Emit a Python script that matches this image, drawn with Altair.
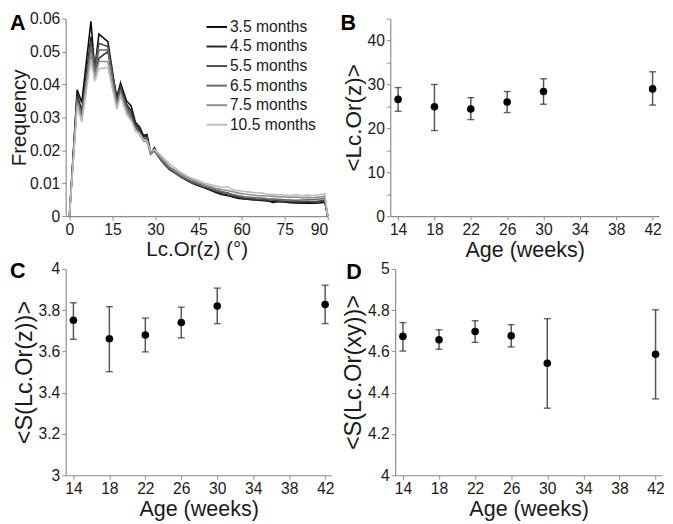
import altair as alt
import pandas as pd

FONT = "Liberation Sans"

# ---------------- Panel A data ----------------
angles = [0, 2.7, 4.3, 7.5, 8.8, 10.3, 13.4, 16.5, 17.8, 19.9, 21.5, 23.0, 24.5, 25.8, 27.0,
          28.3, 29.6, 31.0, 33, 35, 37, 39, 41, 43, 45, 47, 49, 51, 53, 55, 57, 59, 61, 63,
          65, 67, 69, 71, 73, 75, 77, 79, 81, 83, 85, 87, 89, 90]

freq_35 = [0, 0.0384, 0.0345, 0.0592, 0.0447, 0.0553, 0.0530, 0.0355, 0.0405, 0.0350, 0.0335,
           0.0285, 0.0270, 0.0245, 0.0248, 0.0192, 0.0208, 0.0185, 0.0162, 0.0145, 0.0132,
           0.0120, 0.0108, 0.0100, 0.0093, 0.0086, 0.0079, 0.0072, 0.0066, 0.0063, 0.0058,
           0.0054, 0.0052, 0.0051, 0.0049, 0.0048, 0.0046, 0.0045, 0.0044, 0.0043, 0.0041,
           0.0040, 0.0039, 0.0040, 0.0039, 0.0040, 0.0042, 0]
freq_45 = [0, 0.0372, 0.0320, 0.0545, 0.0440, 0.0480, 0.0500, 0.0365, 0.0398, 0.0340, 0.0320,
           0.0278, 0.0262, 0.0240, 0.0245, 0.0195, 0.0205, 0.0182, 0.0160, 0.0142, 0.0130,
           0.0118, 0.0110, 0.0099, 0.0092, 0.0087, 0.0080, 0.0073, 0.0068, 0.0064, 0.0060,
           0.0056, 0.0053, 0.0051, 0.0050, 0.0050, 0.0047, 0.0041, 0.0045, 0.0044, 0.0043,
           0.0042, 0.0041, 0.0043, 0.0042, 0.0044, 0.0046, 0]
freq_55 = [0, 0.0362, 0.0300, 0.0530, 0.0455, 0.0525, 0.0515, 0.0350, 0.0390, 0.0335, 0.0310,
           0.0270, 0.0255, 0.0235, 0.0238, 0.0190, 0.0200, 0.0180, 0.0158, 0.0140, 0.0130,
           0.0119, 0.0109, 0.0101, 0.0095, 0.0088, 0.0083, 0.0077, 0.0072, 0.0070, 0.0064,
           0.0060, 0.0056, 0.0054, 0.0052, 0.0051, 0.0050, 0.0049, 0.0047, 0.0046, 0.0046,
           0.0045, 0.0044, 0.0045, 0.0044, 0.0046, 0.0048, 0]
freq_65 = [0, 0.0352, 0.0312, 0.0515, 0.0435, 0.0505, 0.0505, 0.0340, 0.0380, 0.0325, 0.0300,
           0.0265, 0.0250, 0.0232, 0.0230, 0.0188, 0.0198, 0.0182, 0.0162, 0.0145, 0.0133,
           0.0122, 0.0113, 0.0105, 0.0098, 0.0091, 0.0086, 0.0080, 0.0075, 0.0071, 0.0066,
           0.0062, 0.0059, 0.0057, 0.0056, 0.0055, 0.0053, 0.0052, 0.0051, 0.0050, 0.0049,
           0.0048, 0.0049, 0.0050, 0.0050, 0.0052, 0.0054, 0]
freq_75 = [0, 0.0345, 0.0295, 0.0495, 0.0420, 0.0470, 0.0470, 0.0332, 0.0372, 0.0318, 0.0295,
           0.0260, 0.0248, 0.0228, 0.0225, 0.0192, 0.0200, 0.0186, 0.0168, 0.0150, 0.0138,
           0.0127, 0.0118, 0.0110, 0.0102, 0.0096, 0.0090, 0.0085, 0.0081, 0.0078, 0.0074,
           0.0070, 0.0067, 0.0065, 0.0063, 0.0062, 0.0061, 0.0060, 0.0059, 0.0058, 0.0057,
           0.0058, 0.0056, 0.0057, 0.0056, 0.0058, 0.0060, 0]
freq_105 = [0, 0.0335, 0.0285, 0.0475, 0.0410, 0.0448, 0.0452, 0.0325, 0.0365, 0.0310, 0.0290,
            0.0262, 0.0250, 0.0232, 0.0228, 0.0198, 0.0203, 0.0192, 0.0175, 0.0158, 0.0145,
            0.0132, 0.0122, 0.0114, 0.0108, 0.0101, 0.0096, 0.0092, 0.0087, 0.0090, 0.0080,
            0.0077, 0.0075, 0.0073, 0.0071, 0.0070, 0.0067, 0.0066, 0.0065, 0.0064, 0.0063,
            0.0066, 0.0062, 0.0064, 0.0063, 0.0065, 0.0068, 0]

series_names = ["3.5 months", "4.5 months", "5.5 months", "6.5 months", "7.5 months", "10.5 months"]
series_vals = [freq_35, freq_45, freq_55, freq_65, freq_75, freq_105]
series_colors = ["#0a0a0a", "#262626", "#4a4a4a", "#6a6a6a", "#8e8e8e", "#bdbdbd"]

# ---------------- Panels B, C, D data ----------------
ages = [14, 18, 22, 26, 30, 42]
b_mean = [26.6, 24.9, 24.4, 26.0, 28.4, 29.0]
b_lo = [23.9, 19.5, 22.0, 23.6, 25.5, 25.3]
b_hi = [29.3, 30.0, 27.0, 28.4, 31.3, 32.9]
c_mean = [3.751, 3.662, 3.680, 3.740, 3.820, 3.828]
c_lo = [3.659, 3.502, 3.598, 3.666, 3.735, 3.735]
c_hi = [3.836, 3.817, 3.762, 3.815, 3.907, 3.921]
d_mean = [4.673, 4.657, 4.697, 4.676, 4.543, 4.586]
d_lo = [4.602, 4.611, 4.644, 4.622, 4.325, 4.370]
d_hi = [4.740, 4.705, 4.749, 4.730, 4.759, 4.802]

age_ticks = [14, 18, 22, 26, 30, 34, 38, 42]

AX = dict(domainColor="#8c8c8c", tickColor="#8c8c8c", labelColor="#1a1a1a",
          titleColor="#1a1a1a", labelFont=FONT, titleFont=FONT, labelFontSize=16,
          titleFontWeight="normal", tickSize=4, grid=False, domainWidth=1.2)
PLAIN = "'' + datum.value"


def letter_layer(letter, lx, ly):
    return alt.Chart(pd.DataFrame({"t": [letter]})).mark_text(
        font=FONT, fontSize=22, fontWeight="bold", align="left",
        baseline="alphabetic", color="#000"
    ).encode(text="t:N", x=alt.value(lx), y=alt.value(ly))


# ---------------- Panel A ----------------
rows = []
for name, vals in zip(series_names, series_vals):
    for a, v in zip(angles, vals):
        rows.append({"angle": a, "freq": v, "series": name})
dfA = pd.DataFrame(rows)

linesA = alt.Chart(dfA).mark_line(strokeWidth=1.6).encode(
    x=alt.X("angle:Q", scale=alt.Scale(domain=[-1.3, 90], nice=False, zero=False),
            axis=alt.Axis(values=[0, 15, 30, 45, 60, 75, 90], title="Lc.Or(z) (°)",
                          titleFontSize=21, titlePadding=1, labelPadding=2,
                          labelExpr=PLAIN, **AX)),
    y=alt.Y("freq:Q", scale=alt.Scale(domain=[0, 0.06], nice=False),
            axis=alt.Axis(values=[0, 0.01, 0.02, 0.03, 0.04, 0.05, 0.06], title="Frequency",
                          titleFontSize=21, titlePadding=0, labelPadding=2,
                          labelExpr=PLAIN, **AX)),
    color=alt.Color("series:N", scale=alt.Scale(domain=series_names, range=series_colors),
                    legend=alt.Legend(title=None, orient="none", legendX=143, legendY=-3,
                                      symbolType="stroke", symbolSize=441,
                                      symbolStrokeWidth=2, labelFont=FONT, labelFontSize=16,
                                      labelColor="#1a1a1a", rowPadding=0, padding=0,
                                      labelOffset=2)),
    detail="series:N",
)
panelA = alt.layer(linesA, letter_layer("A", -57, 12)).properties(width=268, height=202)


def scatter_panel(mean, lo, hi, ydom, yvals, ytitle, ytsize, letter, lx, ly, w, h,
                  label_expr=PLAIN):
    df = pd.DataFrame({"age": ages, "mean": mean, "lo": lo, "hi": hi})
    xscale = alt.Scale(domain=[13.14, 42.72], nice=False, zero=False)
    xaxis = alt.Axis(values=age_ticks, title="Age (weeks)", titleFontSize=22,
                     titlePadding=2, labelPadding=2, labelExpr=PLAIN, **AX)
    yscale = alt.Scale(domain=ydom, nice=False, zero=False)
    yaxis = alt.Axis(values=yvals, title=ytitle, titleFontSize=ytsize, titlePadding=2,
                     labelPadding=2, labelExpr=label_expr, **AX)

    def X():
        return alt.X("age:Q", scale=xscale, axis=xaxis)

    def Y(f):
        return alt.Y(f, scale=yscale, axis=yaxis)

    base = alt.Chart(df)
    rule = base.mark_rule(color="#555555", strokeWidth=1.5).encode(
        x=X(), y=Y("lo:Q"), y2="hi:Q")
    cap_hi = base.mark_tick(color="#222222", thickness=1.4, size=7,
                            orient="horizontal").encode(x=X(), y=Y("hi:Q"))
    cap_lo = base.mark_tick(color="#222222", thickness=1.4, size=7,
                            orient="horizontal").encode(x=X(), y=Y("lo:Q"))
    pts = base.mark_circle(size=60, color="#000", opacity=1).encode(x=X(), y=Y("mean:Q"))
    return alt.layer(rule, cap_hi, cap_lo, pts, letter_layer(letter, lx, ly)).properties(
        width=w, height=h)


panelB = scatter_panel(b_mean, b_lo, b_hi, [0, 45], [0, 5, 10, 15, 20, 25, 30, 35, 40, 45],
                       "<Lc.Or(z)>", 23, "B", -51, 12, 275, 202,
                       label_expr="datum.value % 10 == 0 ? '' + datum.value : ''")
panelC = scatter_panel(c_mean, c_lo, c_hi, [3, 4], [3, 3.2, 3.4, 3.6, 3.8, 4],
                       "<S(Lc.Or(z))>", 24, "C", -57, 9, 272, 211)
panelD = scatter_panel(d_mean, d_lo, d_hi, [4, 5], [4, 4.2, 4.4, 4.6, 4.8, 5],
                       "<S(Lc.Or(xy))>", 24, "D", -50, 10, 273, 211)

row1 = alt.hconcat(panelA, panelB, spacing=9)
row2 = alt.hconcat(panelC, panelD, spacing=7)
chart = alt.vconcat(row1, row2, spacing=0).properties(
    padding={"left": 0, "top": -3, "right": 0, "bottom": 0}
).configure_view(stroke=None)

chart.save("out.html", embed_options={"renderer": "svg", "actions": False})
